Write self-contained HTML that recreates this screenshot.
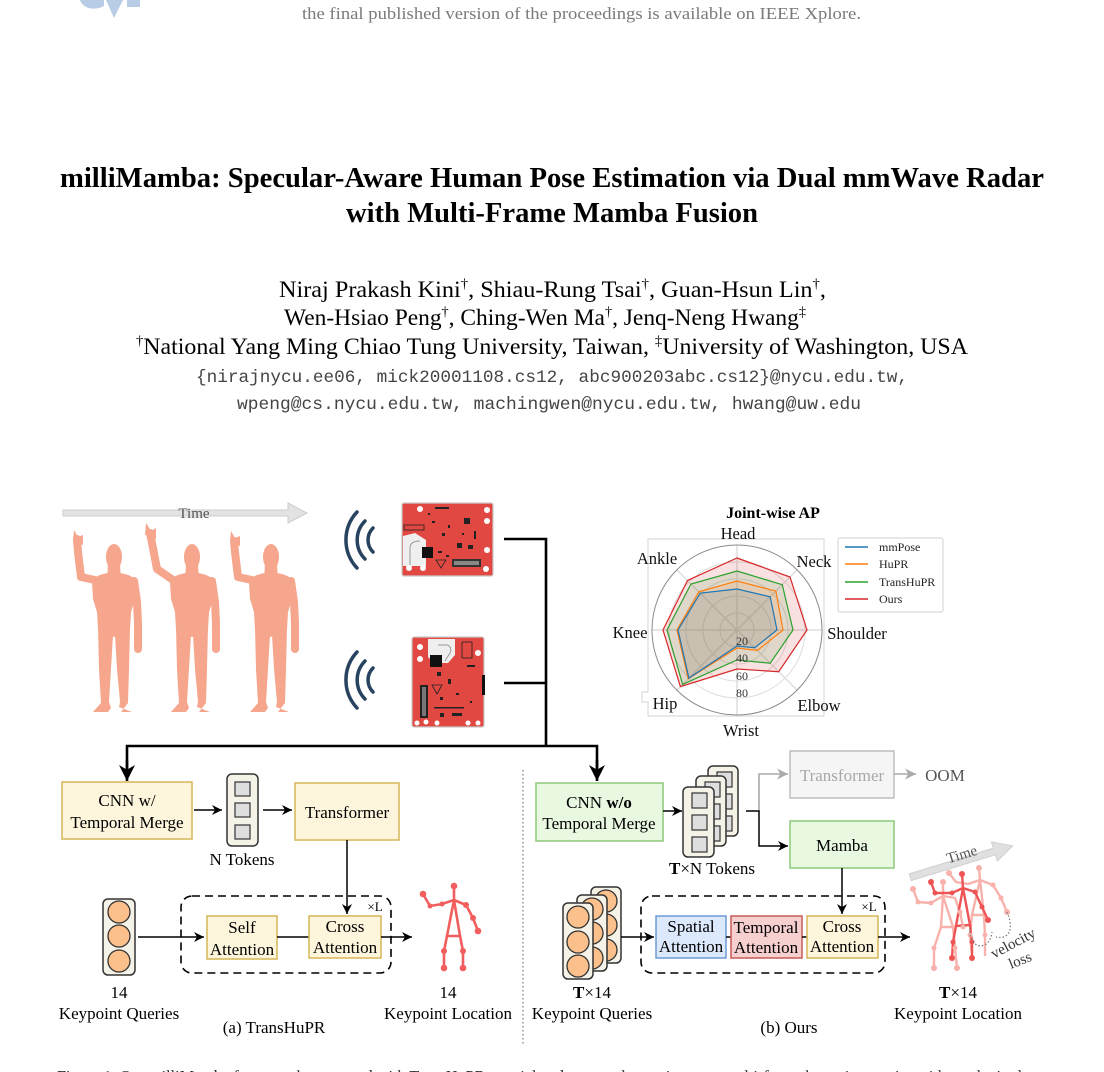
<!DOCTYPE html>
<html><head><meta charset="utf-8"><style>
html,body{margin:0;padding:0;background:#fff;}
svg{display:block;}
</style></head><body>
<svg width="1104" height="1072" viewBox="0 0 1104 1072" xmlns="http://www.w3.org/2000/svg" font-family="'Liberation Serif', serif">
<defs>
<marker id="ar" viewBox="0 0 10 10" refX="10" refY="5" markerWidth="10" markerHeight="10" markerUnits="userSpaceOnUse" orient="auto"><path d="M0,0 L10,5 L0,10 L3,5 z" fill="#000"/></marker>
<marker id="arg" viewBox="0 0 10 10" refX="10" refY="5" markerWidth="11" markerHeight="11" markerUnits="userSpaceOnUse" orient="auto"><path d="M0,0 L10,5 L0,10 L3,5 z" fill="#aaa"/></marker>
<marker id="arB" viewBox="0 0 10 10" refX="10" refY="5" markerWidth="16" markerHeight="16" markerUnits="userSpaceOnUse" orient="auto"><path d="M0,0 L10,5 L0,10 L3,5 z" fill="#000"/></marker>
<g id="body" fill="#f5a68c">
 <ellipse cx="0" cy="0" rx="8" ry="13"/>
 <path d="M-6,6 L6,6 L6.5,16 C13,17.5 20,19 22,25 L21,42 L17,55 L16,73 L0,80 L-16,73 L-17,55 L-21,42 L-22,25 C-20,19 -13,17.5 -6.5,16 Z"/>
 <path d="M-16,70 L-1,78 L-3,112 L-5,145 L-3,151 L-6,155 L-21,155 L-13,146 L-15,112 Z"/>
 <path d="M16,70 L1,78 L3,112 L6,145 L5,150 L18,155 L7,155 L14,146 L15,112 Z"/>
 <polyline points="20,24 23,45 24,66 24,92" fill="none" stroke="#f5a68c" stroke-width="8" stroke-linecap="round" stroke-linejoin="round"/>
</g>
</defs>

<!-- CVF logo fragment -->
<g fill="#b9cce6">
 <path d="M80,0 C83,9 95,11 104,6 L104,0 Z"/>
 <polygon points="106,0 123,0 114,18"/>
 <rect x="127" y="0" width="13" height="7"/>
</g>

<!-- header text -->
<text x="302" y="19" font-size="17" fill="#7a7a7a" textLength="559" lengthAdjust="spacingAndGlyphs">the final published version of the proceedings is available on IEEE Xplore.</text>

<!-- title -->
<text x="60" y="187" font-size="28" font-weight="bold" fill="#000" textLength="984" lengthAdjust="spacingAndGlyphs">milliMamba: Specular-Aware Human Pose Estimation via Dual mmWave Radar</text>
<text x="346" y="222" font-size="28" font-weight="bold" fill="#000" textLength="412" lengthAdjust="spacingAndGlyphs">with Multi-Frame Mamba Fusion</text>

<!-- authors -->
<text x="279" y="297" font-size="23" fill="#000" textLength="547" lengthAdjust="spacingAndGlyphs">Niraj Prakash Kini<tspan font-size="14" dy="-9">†</tspan><tspan dy="9">, Shiau-Rung Tsai</tspan><tspan font-size="14" dy="-9">†</tspan><tspan dy="9">, Guan-Hsun Lin</tspan><tspan font-size="14" dy="-9">†</tspan><tspan dy="9">,</tspan></text>
<text x="284" y="325" font-size="23" fill="#000" textLength="522" lengthAdjust="spacingAndGlyphs">Wen-Hsiao Peng<tspan font-size="14" dy="-9">†</tspan><tspan dy="9">, Ching-Wen Ma</tspan><tspan font-size="14" dy="-9">†</tspan><tspan dy="9">, Jenq-Neng Hwang</tspan><tspan font-size="14" dy="-9">‡</tspan></text>
<text x="136" y="354" font-size="23" fill="#000" textLength="832" lengthAdjust="spacingAndGlyphs"><tspan font-size="14" dy="-9">†</tspan><tspan dy="9">National Yang Ming Chiao Tung University, Taiwan, </tspan><tspan font-size="14" dy="-9">‡</tspan><tspan dy="9">University of Washington, USA</tspan></text>
<text x="196" y="382" font-size="17.5" fill="#444" font-family="'Liberation Mono', monospace" textLength="712" lengthAdjust="spacingAndGlyphs">{nirajnycu.ee06, mick20001108.cs12, abc900203abc.cs12}@nycu.edu.tw,</text>
<text x="237" y="409" font-size="17.5" fill="#444" font-family="'Liberation Mono', monospace" textLength="624" lengthAdjust="spacingAndGlyphs">wpeng@cs.nycu.edu.tw, machingwen@nycu.edu.tw, hwang@uw.edu</text>

<!-- ===== FIGURE ===== -->
<polygon points="63,510 288,510 288,503 307,513 288,523 288,516 63,516" fill="#e3e3e3" stroke="#cdcdcd" stroke-width="1"/>
<text x="194" y="518" font-size="15" fill="#555" text-anchor="middle">Time</text>

<!-- humans -->
<g transform="translate(114,557)">
 <use href="#body"/>
 <polyline points="-19,23 -33,20 -36,-5 -37,-18" fill="none" stroke="#f5a68c" stroke-width="8" stroke-linecap="round" stroke-linejoin="round"/>
 <path d="M-41,-16 L-40,-27 L-36,-20 L-31,-22 L-31,-12 Z" fill="#f5a68c"/>
</g>
<g transform="translate(192,557)">
 <use href="#body"/>
 <polyline points="-19,23 -35,12 -40,-14 -42,-24" fill="none" stroke="#f5a68c" stroke-width="8" stroke-linecap="round" stroke-linejoin="round"/>
 <path d="M-47,-22 L-46,-34 L-41,-26 L-36,-29 L-36,-18 Z" fill="#f5a68c"/>
</g>
<g transform="translate(271,557)">
 <use href="#body"/>
 <polyline points="-19,23 -33,20 -36,-5 -37,-16" fill="none" stroke="#f5a68c" stroke-width="8" stroke-linecap="round" stroke-linejoin="round"/>
 <path d="M-41,-15 L-40,-26 L-36,-19 L-31,-21 L-31,-11 Z" fill="#f5a68c"/>
</g>

<!-- radar waves -->
<g fill="none" stroke="#27435f" stroke-width="3.5" stroke-linecap="round">
 <path d="M357,512 A41,41 0 0 0 357,568"/>
 <path d="M365,521 A27,27 0 0 0 365,559"/>
 <path d="M373,528 A17,17 0 0 0 373,552"/>
 <path d="M357,652 A41,41 0 0 0 357,708"/>
 <path d="M365,661 A27,27 0 0 0 365,699"/>
 <path d="M373,668 A17,17 0 0 0 373,692"/>
</g>

<!-- board 1 -->
<g transform="translate(402,503)">
 <rect x="0" y="0" width="91" height="73" rx="2" fill="#e24842" stroke="#c9c9c9" stroke-width="1.2"/>
 <polygon points="1,33 13,30 24,37 24,63 1,63" fill="#efefef"/>
 <path d="M8,62 L8,45 C8,40 12,38 18,38" fill="none" stroke="#999" stroke-width="1"/>
 <rect x="20" y="44" width="11" height="11" fill="#111"/>
 <rect x="50" y="56" width="29" height="8" fill="#333"/>
 <rect x="52" y="58" width="25" height="4" fill="#888"/>
 <rect x="2" y="22" width="20" height="5" fill="none" stroke="#222" stroke-width="0.8"/>
 <g fill="#fff">
  <circle cx="18" cy="6" r="3"/><circle cx="85" cy="7" r="3"/><circle cx="85" cy="18" r="3"/><circle cx="85" cy="47" r="3"/><circle cx="84" cy="66" r="3"/><circle cx="7" cy="65" r="3"/><circle cx="21" cy="65" r="3"/>
 </g>
 <g fill="#222">
  <rect x="33" y="4" width="14" height="2"/><rect x="62" y="15" width="6" height="6"/><rect x="55" y="40" width="5" height="5"/><rect x="66" y="42" width="5" height="4"/><rect x="40" y="30" width="3" height="3"/><rect x="46" y="22" width="2" height="3"/><rect x="30" y="18" width="3" height="2"/><rect x="36" y="48" width="4" height="2"/><rect x="44" y="52" width="3" height="2"/><rect x="72" y="28" width="2" height="8"/><rect x="60" y="30" width="2" height="2"/><rect x="26" y="10" width="2" height="2"/>
 </g>
 <polygon points="34,57 44,57 39,65" fill="none" stroke="#222" stroke-width="0.8"/>
</g>
<!-- board 2 -->
<g transform="translate(412,637)">
 <rect x="0" y="0" width="72" height="90" rx="2" fill="#e24842" stroke="#c9c9c9" stroke-width="1.2"/>
 <polygon points="16,2 43,2 43,18 36,26 22,26 16,20" fill="#efefef"/>
 <path d="M26,8 L34,8 C38,8 40,12 38,16 L33,24" fill="none" stroke="#999" stroke-width="1"/>
 <rect x="18" y="18" width="12" height="12" fill="#111"/>
 <rect x="8" y="48" width="8" height="33" fill="#222"/>
 <rect x="10" y="50" width="4" height="29" fill="#777"/>
 <rect x="70" y="38" width="3" height="20" fill="#111"/>
 <g fill="#fff">
  <circle cx="8" cy="10" r="3"/><circle cx="8" cy="22" r="3"/><circle cx="66" cy="16" r="3"/><circle cx="5" cy="86" r="2.5"/><circle cx="14" cy="85" r="2.5"/><circle cx="25" cy="86" r="2.5"/><circle cx="56" cy="86" r="2.5"/><circle cx="66" cy="86" r="2.5"/>
 </g>
 <g fill="#222">
  <rect x="50" y="5" width="10" height="16" fill="none" stroke="#222" stroke-width="0.8"/><rect x="25" y="35" width="4" height="4"/><rect x="36" y="42" width="3" height="5"/><rect x="55" y="28" width="8" height="2"/><rect x="28" y="60" width="3" height="3"/><rect x="44" y="56" width="3" height="2"/><rect x="22" y="70" width="30" height="1.5"/><rect x="40" y="76" width="10" height="3"/><rect x="28" y="76" width="4" height="4"/><rect x="58" y="64" width="2" height="2"/>
 </g>
 <polygon points="20,48 30,48 25,57" fill="none" stroke="#222" stroke-width="0.8"/>
</g>

<!-- connectors from boards -->
<g fill="none" stroke="#000" stroke-width="2.6">
 <polyline points="504,539 546,539 546,746"/>
 <line x1="504" y1="683" x2="546" y2="683"/>
 <polyline points="127,770 127,746 597,746 597,770" stroke-linejoin="miter"/>
</g>
<line x1="127" y1="760" x2="127" y2="781" stroke="#000" stroke-width="2.6" marker-end="url(#arB)"/>
<line x1="597" y1="760" x2="597" y2="781" stroke="#000" stroke-width="2.6" marker-end="url(#arB)"/>

<!-- ===== radar chart ===== -->
<text x="773" y="518" font-size="16" font-weight="bold" text-anchor="middle">Joint-wise AP</text>
<path d="M648,539 L824,539 L824,716 L648,716 L648,702 L642,702 L642,692 L648,692 Z" fill="none" stroke="#dcdcdc" stroke-width="1.2"/>
<g fill="none" stroke="#dcdcdc" stroke-width="1">
 <circle cx="737" cy="630" r="17"/><circle cx="737" cy="630" r="34"/><circle cx="737" cy="630" r="51"/><circle cx="737" cy="630" r="68"/>
</g>
<g stroke="#dedede" stroke-width="1.5">
 <line x1="737" y1="545" x2="737" y2="715"/>
 <line x1="652" y1="630" x2="822" y2="630"/>
 <line x1="676.9" y1="569.9" x2="797.1" y2="690.1"/>
 <line x1="797.1" y1="569.9" x2="676.9" y2="690.1"/>
</g>
<circle cx="737" cy="630" r="85" fill="none" stroke="#8a8a8a" stroke-width="1"/>
<polygon points="737,558 790,577 807,630 778.7,671.7 737,669 680.4,686.6 663,630 687.5,580.5" fill="#d62728" fill-opacity="0.14" stroke="#d62728" stroke-width="1.2"/>
<polygon points="737,571 782.3,584.7 793,630 770.2,663.2 737,660 682.6,684.4 667,630 691,584" fill="#2ca02c" fill-opacity="0.12" stroke="#2ca02c" stroke-width="1.2"/>
<polygon points="737,581 775.9,591.1 783,630 757.5,650.5 737,648 688.2,678.8 677,630 698.8,591.8" fill="#ff7f0e" fill-opacity="0.13" stroke="#ff7f0e" stroke-width="1.2"/>
<polygon points="737,589 770.2,596.8 777,630 754.7,647.7 737,646 688.9,678.1 678,630 700.2,593.2" fill="#1f77b4" fill-opacity="0.13" stroke="#1f77b4" stroke-width="1.2"/>
<g font-size="12" fill="#333" text-anchor="middle">
 <text x="742" y="645">20</text><text x="742" y="662">40</text><text x="742" y="680">60</text><text x="742" y="697">80</text>
</g>
<g font-size="16.5" fill="#111" text-anchor="middle">
 <text x="738" y="539">Head</text>
 <text x="814" y="567">Neck</text>
 <text x="857" y="639">Shoulder</text>
 <text x="819" y="711">Elbow</text>
 <text x="741" y="736">Wrist</text>
 <text x="665" y="709">Hip</text>
 <text x="630" y="638">Knee</text>
 <text x="657" y="564">Ankle</text>
</g>
<rect x="838" y="538" width="105" height="74" rx="2" fill="#fff" fill-opacity="0.85" stroke="#d0d0d0" stroke-width="1"/>
<g stroke-width="1.6">
 <line x1="845" y1="547" x2="868" y2="547" stroke="#1f77b4"/>
 <line x1="845" y1="564" x2="868" y2="564" stroke="#ff7f0e"/>
 <line x1="845" y1="582" x2="868" y2="582" stroke="#2ca02c"/>
 <line x1="845" y1="599" x2="868" y2="599" stroke="#d62728"/>
</g>
<g font-size="12" fill="#222">
 <text x="879" y="551">mmPose</text><text x="879" y="568">HuPR</text><text x="879" y="586">TransHuPR</text><text x="879" y="603">Ours</text>
</g>

<!-- ===== (a) TransHuPR ===== -->
<rect x="62" y="782" width="130" height="57" fill="#fdf5dc" stroke="#d6b656" stroke-width="1.5"/>
<text x="127" y="806" font-size="17" text-anchor="middle">CNN w/</text>
<text x="127" y="828" font-size="17" text-anchor="middle">Temporal Merge</text>
<line x1="194" y1="810" x2="222" y2="810" stroke="#000" stroke-width="1.5" marker-end="url(#ar)"/>
<rect x="227" y="774" width="31" height="72" rx="5" fill="#f5f2e8" stroke="#333" stroke-width="1.5"/>
<g fill="#dedede" stroke="#333" stroke-width="1.2">
 <rect x="235" y="782" width="15" height="14"/><rect x="235" y="803" width="15" height="14"/><rect x="235" y="825" width="15" height="14"/>
</g>
<text x="242" y="865" font-size="17" text-anchor="middle">N Tokens</text>
<line x1="263" y1="810" x2="292" y2="810" stroke="#000" stroke-width="1.5" marker-end="url(#ar)"/>
<rect x="295" y="783" width="104" height="57" fill="#fdf5dc" stroke="#d6b656" stroke-width="1.5"/>
<text x="347" y="818" font-size="17" text-anchor="middle">Transformer</text>
<line x1="347" y1="840" x2="347" y2="914" stroke="#000" stroke-width="1.5" marker-end="url(#ar)"/>
<rect x="181" y="896" width="210" height="77" rx="11" fill="none" stroke="#000" stroke-width="1.6" stroke-dasharray="8,5"/>
<text x="375" y="911" font-size="13" text-anchor="middle">×L</text>
<rect x="207" y="916" width="70" height="43" fill="#fdf5dc" stroke="#d6b656" stroke-width="1.5"/>
<text x="242" y="933" font-size="17" text-anchor="middle">Self</text>
<text x="242" y="955" font-size="17" text-anchor="middle">Attention</text>
<line x1="277" y1="937" x2="309" y2="937" stroke="#000" stroke-width="1.5"/>
<rect x="309" y="916" width="72" height="42" fill="#fdf5dc" stroke="#d6b656" stroke-width="1.5"/>
<text x="345" y="932" font-size="17" text-anchor="middle">Cross</text>
<text x="345" y="953" font-size="17" text-anchor="middle">Attention</text>
<line x1="381" y1="937" x2="412" y2="937" stroke="#000" stroke-width="1.5" marker-end="url(#ar)"/>
<rect x="103" y="899" width="32" height="76" rx="5" fill="#f5f2e8" stroke="#333" stroke-width="1.5"/>
<g fill="#fbc08c" stroke="#333" stroke-width="1.3">
 <circle cx="119" cy="912" r="11"/><circle cx="119" cy="936" r="11"/><circle cx="119" cy="961" r="11"/>
</g>
<line x1="138" y1="937" x2="204" y2="937" stroke="#000" stroke-width="1.5" marker-end="url(#ar)"/>
<!-- skeleton (a) -->
<g stroke="#f25e5e" stroke-width="2.6" fill="none" stroke-linecap="round" stroke-linejoin="round">
 <polyline points="454,886 454,900"/>
 <polyline points="423,894 430,906 442,904 454,900 466,905 473,918 478,931"/>
 <polyline points="447,936 454,900 460,936"/>
 <line x1="447" y1="936" x2="460" y2="936"/>
 <polyline points="447,936 444,951 444,968"/>
 <polyline points="460,936 463,951 463,968"/>
</g>
<g fill="#f25e5e">
 <circle cx="454" cy="886" r="3.3"/><circle cx="423" cy="894" r="3.3"/><circle cx="430" cy="906" r="2.5"/><circle cx="442" cy="904" r="2.5"/><circle cx="466" cy="905" r="3"/><circle cx="473" cy="918" r="3"/><circle cx="478" cy="931" r="3.3"/><circle cx="444" cy="951" r="3"/><circle cx="463" cy="951" r="3"/><circle cx="444" cy="968" r="3.3"/><circle cx="463" cy="968" r="3.3"/>
</g>
<text x="119" y="998" font-size="17" text-anchor="middle">14</text>
<text x="119" y="1019" font-size="17" text-anchor="middle">Keypoint Queries</text>
<text x="448" y="998" font-size="17" text-anchor="middle">14</text>
<text x="448" y="1019" font-size="17" text-anchor="middle">Keypoint Location</text>
<text x="274" y="1033" font-size="17" text-anchor="middle">(a) TransHuPR</text>

<!-- separator -->
<line x1="523" y1="770" x2="523" y2="1046" stroke="#888" stroke-width="1.4" stroke-dasharray="1.5,2.5"/>

<!-- ===== (b) Ours ===== -->
<rect x="536" y="783" width="127" height="58" fill="#e8f8e1" stroke="#8cc97a" stroke-width="1.5"/>
<text x="599" y="808" font-size="17" text-anchor="middle">CNN <tspan font-weight="bold">w/o</tspan></text>
<text x="599" y="829" font-size="17" text-anchor="middle">Temporal Merge</text>
<line x1="663" y1="811" x2="682" y2="811" stroke="#000" stroke-width="1.5" marker-end="url(#ar)"/>
<!-- token stack -->
<g stroke="#333" stroke-width="1.5">
 <rect x="708" y="766" width="30" height="70" rx="5" fill="#f5f2e8"/>
 <g fill="#dedede" stroke-width="1.2"><rect x="717" y="772" width="15" height="15"/><rect x="717" y="794" width="15" height="15"/><rect x="717" y="816" width="15" height="15"/></g>
 <rect x="696" y="776" width="30" height="70" rx="5" fill="#f5f2e8"/>
 <g fill="#dedede" stroke-width="1.2"><rect x="705" y="782" width="15" height="15"/><rect x="705" y="804" width="15" height="15"/><rect x="705" y="826" width="15" height="15"/></g>
 <rect x="683" y="787" width="31" height="70" rx="5" fill="#f5f2e8"/>
 <g fill="#dedede" stroke-width="1.2"><rect x="692" y="793" width="15" height="15"/><rect x="692" y="815" width="15" height="15"/><rect x="692" y="837" width="15" height="15"/></g>
</g>
<text x="712" y="874" font-size="17" text-anchor="middle"><tspan font-weight="bold">T</tspan>×N Tokens</text>
<!-- branch -->
<polyline points="759,811 759,774 788,774" fill="none" stroke="#aaa" stroke-width="1.6" marker-end="url(#arg)"/>
<polyline points="746,811 759,811 759,846 788,846" fill="none" stroke="#000" stroke-width="1.5" marker-end="url(#ar)"/>
<rect x="790" y="751" width="104" height="47" fill="#f5f5f5" stroke="#bdbdbd" stroke-width="1.5"/>
<text x="842" y="781" font-size="17" text-anchor="middle" fill="#a8a8a8">Transformer</text>
<line x1="894" y1="774" x2="916" y2="774" stroke="#aaa" stroke-width="1.6" marker-end="url(#arg)"/>
<text x="945" y="781" font-size="17" text-anchor="middle" fill="#555">OOM</text>
<rect x="790" y="821" width="104" height="47" fill="#e8f8e1" stroke="#8cc97a" stroke-width="1.5"/>
<text x="842" y="851" font-size="17" text-anchor="middle">Mamba</text>
<line x1="842" y1="868" x2="842" y2="914" stroke="#000" stroke-width="1.5" marker-end="url(#ar)"/>
<rect x="641" y="896" width="244" height="77" rx="11" fill="none" stroke="#000" stroke-width="1.6" stroke-dasharray="8,5"/>
<text x="869" y="911" font-size="13" text-anchor="middle">×L</text>
<rect x="656" y="916" width="70" height="42" fill="#dce8fb" stroke="#6d9bd6" stroke-width="1.5"/>
<text x="691" y="932" font-size="17" text-anchor="middle">Spatial</text>
<text x="691" y="952" font-size="17" text-anchor="middle">Attention</text>
<line x1="726" y1="937" x2="731" y2="937" stroke="#000" stroke-width="1.5"/>
<rect x="731" y="916" width="71" height="42" fill="#f6d0cf" stroke="#c65a57" stroke-width="1.5"/>
<text x="766" y="933" font-size="17" text-anchor="middle">Temporal</text>
<text x="766" y="953" font-size="17" text-anchor="middle">Attention</text>
<line x1="802" y1="937" x2="807" y2="937" stroke="#000" stroke-width="1.5"/>
<rect x="807" y="916" width="71" height="42" fill="#fdf5dc" stroke="#d6b656" stroke-width="1.5"/>
<text x="842" y="932" font-size="17" text-anchor="middle">Cross</text>
<text x="842" y="952" font-size="17" text-anchor="middle">Attention</text>
<line x1="878" y1="937" x2="910" y2="937" stroke="#000" stroke-width="1.5" marker-end="url(#ar)"/>
<!-- query stack -->
<g stroke="#333" stroke-width="1.5">
 <rect x="591" y="887" width="30" height="76" rx="5" fill="#f5f2e8"/>
 <g fill="#fbc08c" stroke-width="1.3"><circle cx="606" cy="901" r="11"/><circle cx="606" cy="925" r="11"/><circle cx="606" cy="950" r="11"/></g>
 <rect x="577" y="895" width="30" height="76" rx="5" fill="#f5f2e8"/>
 <g fill="#fbc08c" stroke-width="1.3"><circle cx="592" cy="909" r="11"/><circle cx="592" cy="933" r="11"/><circle cx="592" cy="958" r="11"/></g>
 <rect x="563" y="903" width="30" height="76" rx="5" fill="#f5f2e8"/>
 <g fill="#fbc08c" stroke-width="1.3"><circle cx="578" cy="917" r="11"/><circle cx="578" cy="942" r="11"/><circle cx="578" cy="966" r="11"/></g>
</g>
<line x1="621" y1="937" x2="654" y2="937" stroke="#000" stroke-width="1.5" marker-end="url(#ar)"/>
<text x="592" y="998" font-size="17" text-anchor="middle"><tspan font-weight="bold">T</tspan>×14</text>
<text x="592" y="1019" font-size="17" text-anchor="middle">Keypoint Queries</text>
<text x="789" y="1033" font-size="17" text-anchor="middle">(b) Ours</text>
<text x="958" y="998" font-size="17" text-anchor="middle"><tspan font-weight="bold">T</tspan>×14</text>
<text x="958" y="1019" font-size="17" text-anchor="middle">Keypoint Location</text>

<!-- time arrow (b) -->
<g transform="translate(960,862) rotate(-17)">
 <polygon points="-52,-3.5 36,-3.5 36,-10 55,0 36,10 36,3.5 -52,3.5" fill="#e0e0e0" stroke="#cfcfcf" stroke-width="1"/>
 <text x="4" y="-2" font-size="15" fill="#555" text-anchor="middle">Time</text>
</g>
<!-- skeletons (b) -->
<g fill="none" stroke-linecap="round" stroke-linejoin="round" stroke-width="2.4">
 <g stroke="#f8b1ab">
  <polyline points="943,882 943,896"/>
  <polyline points="913,889 918,902 931,903 943,896 955,898 960,912 963,927"/>
  <polyline points="941,927 943,896 953,927"/><line x1="941" y1="927" x2="953" y2="927"/>
  <polyline points="941,927 934,948 934,968"/><polyline points="953,927 955,948 957,968"/>
 </g>
 <g stroke="#f8b1ab">
  <polyline points="979,868 980,880"/>
  <polyline points="949,873 956,882 968,884 980,880 993,885 1001,898 1007,912"/>
  <polyline points="972,915 980,880 984,915"/><line x1="972" y1="915" x2="984" y2="915"/>
  <polyline points="972,915 970,935 972,955"/><polyline points="984,915 985,935 985,955"/>
 </g>
 <g stroke="#ef5454">
  <polyline points="962,874 963,888"/>
  <polyline points="931,882 935,893 952,893 963,888 975,892 982,907 988,920"/>
  <polyline points="956,926 963,888 970,925"/><line x1="956" y1="926" x2="970" y2="925"/>
  <polyline points="956,926 953,942 952,958"/><polyline points="970,925 972,942 972,958"/>
 </g>
</g>
<g fill="#f8b1ab">
 <circle cx="943" cy="882" r="3"/><circle cx="913" cy="889" r="3"/><circle cx="918" cy="902" r="2.5"/><circle cx="931" cy="903" r="2.5"/><circle cx="960" cy="912" r="2.5"/><circle cx="963" cy="927" r="2.5"/><circle cx="934" cy="948" r="2.5"/><circle cx="955" cy="948" r="2.5"/><circle cx="934" cy="968" r="3"/><circle cx="957" cy="968" r="3"/>
 <circle cx="979" cy="868" r="3"/><circle cx="949" cy="873" r="3"/><circle cx="993" cy="885" r="2.5"/><circle cx="1001" cy="898" r="2.5"/><circle cx="1007" cy="912" r="3"/><circle cx="970" cy="935" r="2.5"/><circle cx="985" cy="935" r="2.5"/>
</g>
<g fill="#ef5454">
 <circle cx="962" cy="874" r="3"/><circle cx="931" cy="882" r="3"/><circle cx="935" cy="893" r="2.5"/><circle cx="952" cy="893" r="2.5"/><circle cx="975" cy="892" r="2.5"/><circle cx="982" cy="907" r="2.5"/><circle cx="988" cy="920" r="3"/><circle cx="953" cy="942" r="2.5"/><circle cx="972" cy="942" r="2.5"/><circle cx="952" cy="958" r="3"/><circle cx="972" cy="958" r="3"/>
</g>
<g fill="none" stroke="#777" stroke-width="1.2" stroke-dasharray="1.5,2">
 <path d="M970,928 C968,950 990,952 992,932"/>
 <path d="M1007,912 C1014,928 1010,940 996,937"/>
</g>
<text x="1013" y="948" font-size="15" fill="#333" text-anchor="middle" transform="rotate(-28 1013 943)">velocity</text>
<text x="1020" y="965" font-size="15" fill="#333" text-anchor="middle" transform="rotate(-22 1020 960)">loss</text>

<!-- cut caption -->
<text x="57" y="1082" font-size="17" fill="#222" textLength="990" lengthAdjust="spacingAndGlyphs">Figure 1. Our milliMamba framework compared with TransHuPR: spatial and temporal attention over multi-frame keypoint queries with a velocity loss.</text>
</svg>
</body></html>
